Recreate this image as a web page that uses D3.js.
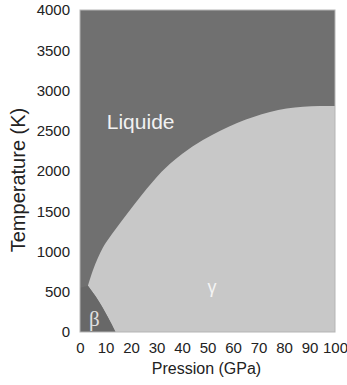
<!DOCTYPE html>
<html>
<head>
<meta charset="utf-8">
<script src="https://cdn.jsdelivr.net/npm/d3@7"></script>
<style>
  body { margin: 0; background: #fff; }
  svg { display: block; font-family: "Liberation Sans", Arial, sans-serif; }
  .tick text { fill: #222; }
</style>
</head>
<body>
<div id="chart"></div>
<script>
// phase boundaries (P in GPa, T in K)
const liquidus = [[3.1, 575], [5, 760], [7, 920], [9, 1050], [11.5, 1170], [14, 1280], [18.8, 1480],
  [23.9, 1690], [28.6, 1870], [32, 1990], [35.3, 2090], [40, 2210], [48.2, 2385], [55, 2500],
  [61.6, 2596], [68, 2670], [74.5, 2733], [81, 2775], [87.5, 2798], [94, 2806], [100, 2808]];
const betaGamma = [[3.1, 575], [7.1, 395], [11.0, 180], [13.9, 0]];
const betaLiquid = [[0, 550], [3.1, 575]];
const xTicks = [0, 10, 20, 30, 40, 50, 60, 70, 80, 90, 100];
const yTicks = [0, 500, 1000, 1500, 2000, 2500, 3000, 3500, 4000];
const phaseLabels = [
  { text: 'Liquide', p: 10.5, t: 2520, size: 21, font: 'Liberation Sans', color: '#f2f2f2' },
  { text: 'γ', p: 50, t: 480, size: 18, font: 'Liberation Sans', color: '#f4f4f4' },
  { text: 'β', p: 3.5, t: 80, size: 21, font: 'Liberation Serif', color: '#e0e0e0' }
];

const width = 347, height = 385;
const margin = { top: 10, right: 12, bottom: 53, left: 80 };

const svg = d3.select('#chart').append('svg')
  .attr('width', width).attr('height', height);

const x = d3.scaleLinear().domain([0, 100]).range([margin.left, width - margin.right]);
const y = d3.scaleLinear().domain([0, 4000]).range([height - margin.bottom, margin.top]);

const curve = d3.line().x(d => x(d[0])).y(d => y(d[1])).curve(d3.curveMonotoneX);

// liquid background
svg.append('rect')
  .attr('x', x(0)).attr('y', y(4000))
  .attr('width', x(100) - x(0)).attr('height', y(0) - y(4000))
  .attr('fill', '#707070');

// gamma region
const bgRev = betaGamma.slice().reverse();
const gammaPath = curve(liquidus)
  + `L${x(100)},${y(0)}`
  + curve(bgRev).replace(/^M/, 'L') + 'Z';
svg.append('path').attr('d', gammaPath).attr('fill', '#c8c8c8');

// beta region
const betaPath = `M${x(0)},${y(0)}`
  + curve(betaLiquid).replace(/^M/, 'L')
  + curve(betaGamma).replace(/^M/, 'L') + 'Z';
svg.append('path').attr('d', betaPath).attr('fill', '#686868');

// frame
svg.append('rect')
  .attr('x', x(0)).attr('y', y(4000))
  .attr('width', x(100) - x(0)).attr('height', y(0) - y(4000))
  .attr('fill', 'none').attr('stroke', '#b5b5b5').attr('stroke-width', 1);

// axes
const xAxis = svg.append('g')
  .attr('transform', `translate(0,${y(0)})`)
  .call(d3.axisBottom(x).tickValues(xTicks).tickFormat(d3.format('d')).tickSize(0).tickPadding(10));
xAxis.select('.domain').remove();
xAxis.selectAll('text').style('font-size', '15px');

const yAxis = svg.append('g')
  .attr('transform', `translate(${x(0)},0)`)
  .call(d3.axisLeft(y).tickValues(yTicks).tickFormat(d3.format('d')).tickSize(0).tickPadding(10));
yAxis.select('.domain').remove();
yAxis.selectAll('text').style('font-size', '15px');

svg.append('text')
  .attr('x', (x(0) + x(100)) / 2 - 1).attr('y', 374)
  .attr('text-anchor', 'middle').attr('fill', '#222')
  .style('font-size', '16px')
  .text('Pression (GPa)');

svg.append('text')
  .attr('transform', `translate(25,180) rotate(-90)`)
  .attr('text-anchor', 'middle').attr('fill', '#222')
  .style('font-size', '20px')
  .text('Temperature (K)');

// phase names
svg.selectAll('.phase')
  .data(phaseLabels)
  .join('text')
  .attr('class', 'phase')
  .attr('x', d => x(d.p)).attr('y', d => y(d.t))
  .attr('fill', d => d.color)
  .style('font-family', d => d.font)
  .style('font-size', d => d.size + 'px')
  .text(d => d.text);
</script>
</body>
</html>
